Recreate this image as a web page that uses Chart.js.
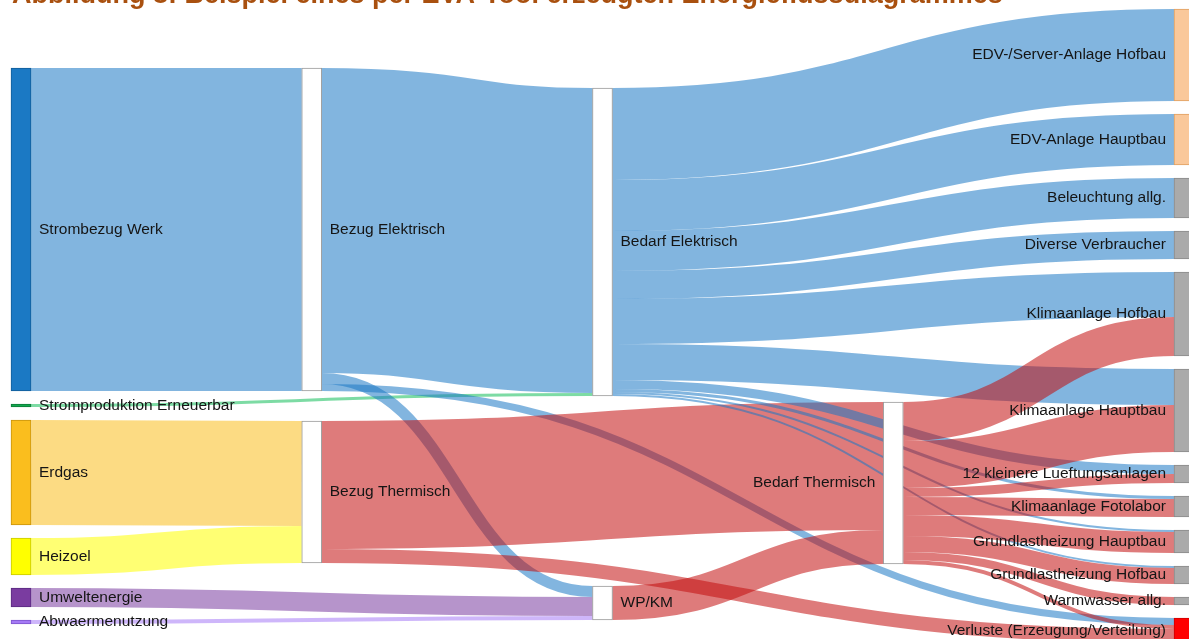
<!DOCTYPE html>
<html>
<head>
<meta charset="utf-8">
<script src="https://cdn.jsdelivr.net/npm/chart.js@4.4.0/dist/chart.umd.min.js"></script>
<style>
html, body { margin: 0; padding: 0; background: #fff; overflow: hidden; }
#wrap { position: relative; width: 1189px; height: 639px; }
#title { position: absolute; left: 12px; top: -21px; line-height: 30px; white-space: nowrap;
         font: bold 27px "Liberation Sans", Arial, sans-serif; color: #a9500f; }
</style>
</head>
<body>
<div id="wrap">
  <canvas id="sankeyChart"></canvas>
  <div id="title">Abbildung 8: Beispiel eines per EVA-Tool erzeugten Energieflussdiagrammes</div>
</div>
<script>
// Nodes (in display order per column)
const nodeNames = [
    'Strombezug Werk', 'Stromproduktion Erneuerbar', 'Erdgas', 'Heizoel', 'Umweltenergie', 'Abwaermenutzung',
    'Bezug Elektrisch', 'Bezug Thermisch',
    'Bedarf Elektrisch', 'WP/KM',
    'Bedarf Thermisch',
    'EDV-/Server-Anlage Hofbau', 'EDV-Anlage Hauptbau', 'Beleuchtung allg.', 'Diverse Verbraucher',
    'Klimaanlage Hofbau', 'Klimaanlage Hauptbau', '12 kleinere Lueftungsanlagen', 'Klimaanlage Fotolabor',
    'Grundlastheizung Hauptbau', 'Grundlastheizung Hofbau', 'Warmwasser allg.', 'Verluste (Erzeugung/Verteilung)'
];

// Energy flows
const flowFrom = [
    'Strombezug Werk', 'Stromproduktion Erneuerbar', 'Erdgas', 'Heizoel', 'Umweltenergie', 'Abwaermenutzung',
    'Bezug Elektrisch', 'Bezug Elektrisch', 'Bezug Elektrisch',
    'Bezug Thermisch', 'Bezug Thermisch',
    'WP/KM',
    'Bedarf Elektrisch', 'Bedarf Elektrisch', 'Bedarf Elektrisch', 'Bedarf Elektrisch', 'Bedarf Elektrisch',
    'Bedarf Elektrisch', 'Bedarf Elektrisch', 'Bedarf Elektrisch', 'Bedarf Elektrisch', 'Bedarf Elektrisch',
    'Bedarf Thermisch', 'Bedarf Thermisch', 'Bedarf Thermisch', 'Bedarf Thermisch',
    'Bedarf Thermisch', 'Bedarf Thermisch', 'Bedarf Thermisch', 'Bedarf Thermisch'
];
const flowTo = [
    'Bezug Elektrisch', 'Bedarf Elektrisch', 'Bezug Thermisch', 'Bezug Thermisch', 'WP/KM', 'WP/KM',
    'Bedarf Elektrisch', 'WP/KM', 'Verluste (Erzeugung/Verteilung)',
    'Bedarf Thermisch', 'Verluste (Erzeugung/Verteilung)',
    'Bedarf Thermisch',
    'EDV-/Server-Anlage Hofbau', 'EDV-Anlage Hauptbau', 'Beleuchtung allg.', 'Diverse Verbraucher', 'Klimaanlage Hofbau',
    'Klimaanlage Hauptbau', '12 kleinere Lueftungsanlagen', 'Klimaanlage Fotolabor', 'Grundlastheizung Hauptbau', 'Grundlastheizung Hofbau',
    'Klimaanlage Hofbau', 'Klimaanlage Hauptbau', '12 kleinere Lueftungsanlagen', 'Klimaanlage Fotolabor',
    'Grundlastheizung Hauptbau', 'Grundlastheizung Hofbau', 'Warmwasser allg.', 'Verluste (Erzeugung/Verteilung)'
];
const flowValue = [
    323, 3, 105, 37, 19, 4,
    305, 11, 7,
    128, 14,
    34,
    92, 51, 40, 28, 45,
    36, 9, 3, 2, 2,
    39, 47, 9, 18,
    21, 16, 8, 4
];

// Styles
const nodeFill = {
    'Strombezug Werk': '#1b79c4', 'Stromproduktion Erneuerbar': '#12a84e', 'Erdgas': '#fabe1e',
    'Heizoel': '#ffff00', 'Umweltenergie': '#7a3ca0', 'Abwaermenutzung': '#a57af5',
    'EDV-/Server-Anlage Hofbau': '#fac89a', 'EDV-Anlage Hauptbau': '#fac89a',
    'Verluste (Erzeugung/Verteilung)': '#ff0000'
};
const nodeBorder = {
    'Strombezug Werk': '#125d99', 'Stromproduktion Erneuerbar': '#0c7a38', 'Erdgas': '#c8930c',
    'Heizoel': '#c8c800', 'Umweltenergie': '#5a2a80', 'Abwaermenutzung': '#7d55cc',
    'EDV-/Server-Anlage Hofbau': '#e0a060', 'EDV-Anlage Hauptbau': '#e0a060',
    'Verluste (Erzeugung/Verteilung)': '#cc0000'
};
const BLUE = 'rgba(27, 121, 196, 0.55)';
const RED = 'rgba(195, 15, 15, 0.55)';
const flowColorBySource = {
    'Strombezug Werk': BLUE, 'Stromproduktion Erneuerbar': 'rgba(18, 190, 90, 0.55)',
    'Erdgas': 'rgba(250, 190, 30, 0.55)', 'Heizoel': 'rgba(255, 255, 0, 0.55)',
    'Umweltenergie': 'rgba(122, 60, 160, 0.55)', 'Abwaermenutzung': 'rgba(165, 122, 245, 0.55)',
    'Bezug Elektrisch': BLUE, 'Bedarf Elektrisch': BLUE,
    'Bezug Thermisch': RED, 'WP/KM': RED, 'Bedarf Thermisch': RED
};
// Layout hints (value units): first node offset and spacing per column
const colStart = [59, 59, 79, 393, 0];
const colGap = [13, 30, 190, 13, 13];

// ---- build sankey layout from the data ----
const nodes = nodeNames.map((name, i) => ({ name, index: i, inLinks: [], outLinks: [] }));
const byName = {};
nodes.forEach(n => byName[n.name] = n);
const links = flowValue.map((v, i) => ({ source: byName[flowFrom[i]], target: byName[flowTo[i]], value: v }));
links.forEach(l => { l.source.outLinks.push(l); l.target.inLinks.push(l); });
nodes.forEach(n => {
    const sumIn = n.inLinks.reduce((a, l) => a + l.value, 0);
    const sumOut = n.outLinks.reduce((a, l) => a + l.value, 0);
    n.value = Math.max(sumIn, sumOut);
});

// columns: longest path from a source, sinks pushed to the last column
let remaining = nodes.slice(), depth = 0;
while (remaining.length) {
    const next = [];
    remaining.forEach(n => {
        n.col = depth;
        n.outLinks.forEach(l => { if (next.indexOf(l.target) < 0) next.push(l.target); });
    });
    remaining = next;
    depth++;
}
const lastCol = depth - 1;
nodes.forEach(n => { if (!n.outLinks.length) n.col = lastCol; });

// stack nodes per column
for (let c = 0; c <= lastCol; c++) {
    let y = colStart[c];
    nodes.filter(n => n.col === c).forEach(n => {
        n.y0 = y;
        n.y1 = y + n.value;
        y = n.y1 + colGap[c];
    });
}
// link attachment offsets
nodes.forEach(n => {
    n.outLinks.sort((a, b) => a.target.y0 - b.target.y0);
    n.inLinks.sort((a, b) => a.source.y0 - b.source.y0);
    let sy = n.y0, ty = n.y0;
    n.outLinks.forEach(l => { l.sy = sy; sy += l.value; });
    n.inLinks.forEach(l => { l.ty = ty; ty += l.value; });
});

const NODE_W = 20;

const linkPlugin = {
    id: 'sankeyLinks',
    beforeDatasetsDraw(chart) {
        const ctx = chart.ctx;
        const xs = chart.scales.x, ys = chart.scales.y;
        ctx.save();
        links.forEach(l => {
            const x0 = xs.getPixelForValue(l.source.col) + NODE_W / 2;
            const x1 = xs.getPixelForValue(l.target.col) - NODE_W / 2;
            const y0 = ys.getPixelForValue(l.sy + l.value / 2);
            const y1 = ys.getPixelForValue(l.ty + l.value / 2);
            const w = Math.abs(ys.getPixelForValue(l.value) - ys.getPixelForValue(0));
            const xm = (x0 + x1) / 2;
            ctx.beginPath();
            ctx.moveTo(x0, y0);
            ctx.bezierCurveTo(xm, y0, xm, y1, x1, y1);
            ctx.lineWidth = w;
            ctx.lineCap = 'butt';
            ctx.strokeStyle = flowColorBySource[l.source.name];
            ctx.stroke();
        });
        ctx.restore();
    },
    afterDatasetsDraw(chart) {
        const ctx = chart.ctx;
        const xs = chart.scales.x, ys = chart.scales.y;
        ctx.save();
        ctx.font = '15.5px "Liberation Sans", Arial, sans-serif';
        ctx.fillStyle = '#151515';
        ctx.textBaseline = 'middle';
        nodes.forEach(n => {
            const xc = xs.getPixelForValue(n.col);
            const yc = ys.getPixelForValue((n.y0 + n.y1) / 2);
            if (n.col <= lastCol / 2) {
                ctx.textAlign = 'left';
                ctx.fillText(n.name, xc + NODE_W / 2 + 8, yc);
            } else {
                ctx.textAlign = 'right';
                ctx.fillText(n.name, xc - NODE_W / 2 - 8, yc);
            }
        });
        ctx.restore();
    }
};

const ctx = document.getElementById('sankeyChart').getContext('2d');
const sankeyChart = new Chart(ctx, {
    type: 'bar',
    data: {
        datasets: [{
            data: nodes.map(n => ({ x: n.col, y: [n.y0, n.y1] })),
            backgroundColor: nodes.map(n => nodeFill[n.name] || (n.col === lastCol ? '#aaaaaa' : '#ffffff')),
            borderColor: nodes.map(n => nodeBorder[n.name] || (n.col === lastCol ? '#8a8a8a' : '#9a9a9a')),
            borderWidth: 1,
            borderSkipped: false,
            barThickness: NODE_W,
            clip: false
        }]
    },
    options: {
        responsive: true,
        maintainAspectRatio: false,
        animation: false,
        events: [],
        layout: { padding: { left: 21, right: 5, top: 0, bottom: 0 } },
        plugins: { legend: { display: false }, title: { display: false }, tooltip: { enabled: false } },
        scales: {
            x: { type: 'linear', min: 0, max: 4, offset: false, display: false },
            y: { type: 'linear', min: -9, max: 630, reverse: true, display: false }
        }
    },
    plugins: [linkPlugin]
});
</script>
</body>
</html>
